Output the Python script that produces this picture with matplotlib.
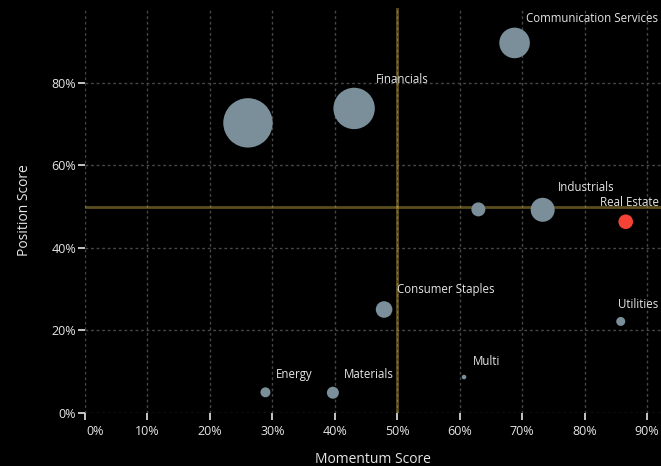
import matplotlib
matplotlib.use("Agg")
import matplotlib.pyplot as plt
import matplotlib.transforms as mtransforms
import numpy as np

# ---- data ----
sectors = ["Unlabelled A", "Financials", "Communication Services", "Unlabelled B",
           "Industrials", "Real Estate", "Consumer Staples", "Utilities",
           "Multi", "Materials", "Energy"]
momentum = [26.1, 43.1, 68.8, 63.0, 73.3, 86.6, 47.9, 85.8, 60.7, 39.7, 28.9]
position = [70.3, 73.8, 89.7, 49.3, 49.2, 46.3, 25.0, 22.1, 8.6, 4.8, 4.9]
weight = [24.7, 20.7, 15.3, 7.0, 12.0, 7.3, 8.3, 4.5, 2.3, 6.0, 5.0]  # bubble radius scale
show_label = [False, True, True, False, True, True, True, True, True, True, True]
highlight = "Real Estate"
x_ticks = [0, 10, 20, 30, 40, 50, 60, 70, 80, 90]
y_ticks = [0, 20, 40, 60, 80]
midline = 50

# ---- style / layout ----
W, H, DPI = 661, 466, 100
BG = "#000000"
BUBBLE = "#7a8f99"
RED = "#f44336"
MID = "#c8aa3c"
GRID = "#474747"
TXT = "#e6e6e6"
FONT = "Open Sans"
plt.rcParams["font.family"] = [FONT, "DejaVu Sans"]

fig = plt.figure(figsize=(W / DPI, H / DPI), dpi=DPI, facecolor=BG)
left_px, right_px, top_px, bot_px = 85, 661, 8, 412.5
ax = fig.add_axes([left_px / W, 1 - bot_px / H, (right_px - left_px) / W, (bot_px - top_px) / H])
ax.set_facecolor(BG)
px_per_x = 6.244
px_per_y = 4.12
ax.set_xlim(0, (right_px - left_px) / px_per_x)
ax.set_ylim(0, (bot_px - top_px) / px_per_y)

for s in ax.spines.values():
    s.set_visible(False)

ax.set_xticks(x_ticks)
ax.set_yticks(y_ticks)
ax.set_xticklabels([f"{v}%" for v in x_ticks])
ax.set_yticklabels([f"{v}%" for v in y_ticks])
ax.tick_params(axis="both", colors=TXT, labelcolor=TXT, labelsize=9, length=5, width=1.2, direction="out")
ax.tick_params(axis="x", pad=4)
ax.tick_params(axis="y", pad=1.5)
ax.grid(True, color=GRID, linestyle=(0, (2, 2)), linewidth=1.0)
ax.set_axisbelow(True)

# shift first x label right
lbl0 = ax.get_xticklabels()[0]
lbl0.set_transform(lbl0.get_transform() + mtransforms.ScaledTranslation(10 / DPI, 0, fig.dpi_scale_trans))

ax.axvline(midline, color=MID, alpha=0.45, linewidth=2.0, zorder=1.5)
ax.axhline(midline, color=MID, alpha=0.45, linewidth=2.0, zorder=1.5)

# bubbles: radius in px -> marker area in pt^2
r_pt = np.array(weight) * 72 / DPI
sizes = (2 * r_pt) ** 2
colors = [RED if s == highlight else BUBBLE for s in sectors]
ax.scatter(momentum, position, s=sizes, c=colors, linewidths=0, zorder=3, clip_on=False)

# labels
for s, x, y, r, show in zip(sectors, momentum, position, weight, show_label):
    if not show:
        continue
    dx = r * 0.707 + 7
    dy = r * 0.707 + 14
    ann = ax.annotate(s, (x, y), xytext=(dx * 72 / DPI, dy * 72 / DPI), textcoords="offset points",
                      ha="left", va="center", color=TXT, fontsize=8.3, zorder=4, annotation_clip=False)
    fig.canvas.draw()
    bb = ann.get_window_extent()
    if bb.x1 > W - 2:
        shift = bb.x1 - (W - 2.5)
        ann.set_position((ann.get_position()[0] - shift * 72 / DPI, ann.get_position()[1]))

ax.set_xlabel("Momentum Score", color=TXT, fontsize=10, labelpad=10)
ax.set_ylabel("Position Score", color=TXT, fontsize=10, labelpad=14)

fig.savefig("out.png", dpi=DPI, facecolor=BG)
